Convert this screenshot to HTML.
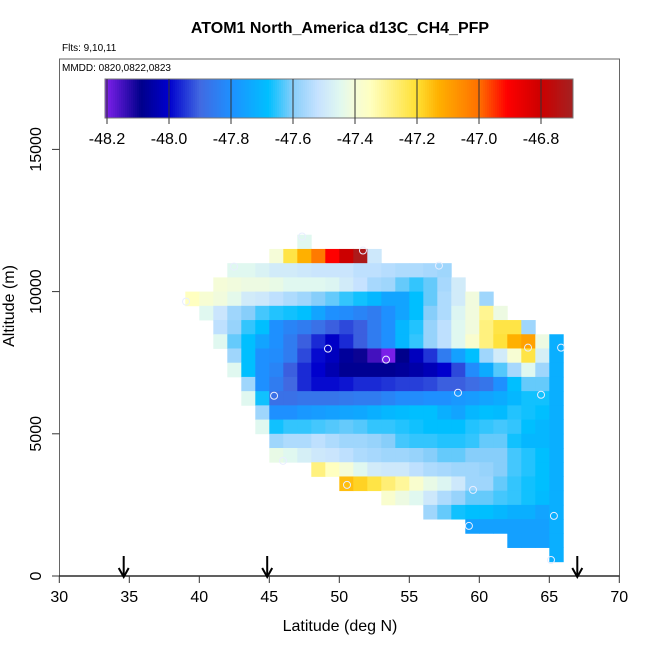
<!DOCTYPE html>
<html><head><meta charset="utf-8"><style>
html,body{margin:0;padding:0;background:#fff;}
svg text{font-family:"Liberation Sans",sans-serif;}
</style></head><body>
<svg id="chart" width="650" height="650" viewBox="0 0 650 650" xmlns="http://www.w3.org/2000/svg">
<rect width="650" height="650" fill="#fff"/>
<text x="340" y="33" text-anchor="middle" font-size="16" font-weight="bold">ATOM1 North_America d13C_CH4_PFP</text>
<text x="62" y="51" font-size="10">Flts: 9,10,11</text>
<text x="62" y="71" font-size="10">MMDD: 0820,0822,0823</text>
<g id="cells"></g>
<g id="pts"></g>
<g id="cbar"></g>
<rect x="59.5" y="59" width="560" height="517" fill="none" stroke="#666" stroke-width="1"/>
<g id="axes"></g>
<text x="340" y="631" text-anchor="middle" font-size="16">Latitude (deg N)</text>
<text transform="translate(14,306) rotate(-90)" text-anchor="middle" font-size="16">Altitude (m)</text>
</svg>
<script>
const xTicks=[30,35,40,45,50,55,60,65,70];
const yTicks=[0,5000,10000,15000];
const cbarTicks=[-48.2,-48.0,-47.8,-47.6,-47.4,-47.2,-47.0,-46.8];
const arrowLats=[34.6,44.85,67.0];
const rowAlt=[11500,11000,10500,10000,9500,9000,8500,8000,7500,7000,6500,6000,5500,5000,4500,4000,3500,3000,2500,2000,1500,1000,500];
const rowLat0=[47,45,42,41,39,40,41,41,42,42,43,43,44,44,45,45,48,50,53,56,59,62,65];
const rowVals=[
[-47.45],
[-47.4,-47.22,-47.13,-47.02,-46.91,-46.8,-46.72,-47.5],
[-47.45,-47.45,-47.47,-47.49,-47.49,-47.5,-47.51,-47.51,-47.51,-47.53,-47.53,-47.54,-47.55,-47.55,-47.56,-47.57],
[-47.4,-47.41,-47.42,-47.42,-47.43,-47.45,-47.45,-47.45,-47.46,-47.49,-47.52,-47.56,-47.57,-47.62,-47.65,-47.62,-47.56,-47.49],
[-47.35,-47.39,-47.41,-47.44,-47.49,-47.5,-47.53,-47.55,-47.57,-47.6,-47.62,-47.65,-47.67,-47.7,-47.75,-47.75,-47.68,-47.62,-47.55,-47.49,-47.41,-47.57],
[-47.45,-47.51,-47.57,-47.6,-47.64,-47.66,-47.67,-47.68,-47.75,-47.8,-47.81,-47.83,-47.85,-47.8,-47.75,-47.68,-47.6,-47.55,-47.46,-47.41,-47.3,-47.42],
[-47.53,-47.58,-47.65,-47.68,-47.8,-47.83,-47.85,-47.88,-47.91,-47.93,-47.91,-47.85,-47.8,-47.7,-47.66,-47.58,-47.53,-47.45,-47.41,-47.28,-47.22,-47.22,-47.57],
[-47.45,-47.62,-47.68,-47.75,-47.8,-47.85,-47.91,-47.96,-48.01,-47.96,-47.91,-47.85,-47.8,-47.7,-47.65,-47.58,-47.53,-47.45,-47.38,-47.28,-47.21,-47.13,-47.1,-47.42,-47.72],
[-47.57,-47.68,-47.8,-47.81,-47.85,-47.93,-47.99,-48.02,-48.07,-48.1,-48.15,-48.2,-48.09,-48.02,-47.95,-47.85,-47.76,-47.68,-47.57,-47.49,-47.39,-47.22,-47.48,-47.72],
[-47.45,-47.68,-47.8,-47.83,-47.91,-47.96,-48.0,-48.04,-48.08,-48.08,-48.08,-48.08,-48.07,-48.05,-48.03,-48.0,-47.93,-47.81,-47.73,-47.63,-47.56,-47.45,-47.57,-47.72],
[-47.57,-47.8,-47.85,-47.9,-47.96,-47.99,-47.99,-47.98,-47.96,-47.96,-47.95,-47.94,-47.94,-47.93,-47.91,-47.91,-47.89,-47.87,-47.8,-47.68,-47.62,-47.62,-47.72],
[-47.45,-47.67,-47.88,-47.88,-47.87,-47.87,-47.87,-47.86,-47.85,-47.85,-47.83,-47.81,-47.81,-47.8,-47.8,-47.78,-47.77,-47.75,-47.73,-47.7,-47.67,-47.67,-47.72],
[-47.57,-47.8,-47.8,-47.78,-47.77,-47.76,-47.75,-47.74,-47.72,-47.7,-47.69,-47.68,-47.68,-47.72,-47.75,-47.7,-47.68,-47.69,-47.66,-47.67,-47.68,-47.72],
[-47.45,-47.67,-47.65,-47.65,-47.64,-47.63,-47.62,-47.63,-47.65,-47.65,-47.66,-47.67,-47.68,-47.68,-47.68,-47.66,-47.65,-47.64,-47.65,-47.68,-47.7,-47.72],
[-47.57,-47.55,-47.55,-47.53,-47.55,-47.57,-47.57,-47.58,-47.6,-47.64,-47.65,-47.65,-47.66,-47.66,-47.65,-47.62,-47.62,-47.67,-47.7,-47.7,-47.72],
[-47.43,-47.45,-47.48,-47.5,-47.51,-47.53,-47.55,-47.56,-47.57,-47.57,-47.58,-47.6,-47.62,-47.62,-47.6,-47.6,-47.6,-47.64,-47.66,-47.68,-47.72],
[-47.28,-47.35,-47.4,-47.45,-47.49,-47.5,-47.5,-47.53,-47.55,-47.56,-47.57,-47.57,-47.58,-47.6,-47.64,-47.66,-47.68,-47.72],
[-47.15,-47.18,-47.22,-47.27,-47.31,-47.38,-47.43,-47.46,-47.5,-47.57,-47.57,-47.62,-47.65,-47.67,-47.68,-47.72],
[-47.38,-47.42,-47.45,-47.5,-47.55,-47.58,-47.62,-47.62,-47.64,-47.65,-47.67,-47.69,-47.72],
[-47.57,-47.62,-47.67,-47.68,-47.68,-47.7,-47.72,-47.72,-47.75,-47.72],
[-47.76,-47.76,-47.76,-47.76,-47.76,-47.76,-47.72],
[-47.76,-47.76,-47.76,-47.72],
[-47.72]
];
const ptLat=[47.34,51.69,42.48,57.12,39.05,49.19,53.34,63.48,65.84,45.34,58.48,64.41,45.98,50.55,59.55,59.26,65.33,65.12];
const ptAlt=[11937,11444,10880,10915,9648,7993,7606,8028,8028,6338,6444,6373,4049,3204,3028,1761,2113,563];

const stops=[[-48.2,'#7a1fe8'],[-48.09,'#00008b'],[-48.0,'#0000cd'],[-47.9,'#4169e1'],[-47.8,'#1e90ff'],[-47.68,'#00bfff'],[-47.6,'#87cefa'],[-47.52,'#c6e2ff'],[-47.45,'#e0f8f0'],[-47.4,'#f5fcd8'],[-47.35,'#ffffc0'],[-47.2,'#ffe033'],[-47.13,'#ffb000'],[-47.0,'#ff7000'],[-46.91,'#ff0000'],[-46.8,'#cc0000'],[-46.7,'#a52020']];
function hx(c){return [1,3,5].map(i=>parseInt(c.substr(i,2),16));}
function color(v){
  if(v<=stops[0][0])return stops[0][1];
  for(let i=1;i<stops.length;i++){
    if(v<=stops[i][0]){const a=hx(stops[i-1][1]),b=hx(stops[i][1]);const t=(v-stops[i-1][0])/(stops[i][0]-stops[i-1][0]);
      return 'rgb('+a.map((x,j)=>Math.round(x+(b[j]-x)*t)).join(',')+')';}
  }
  return stops[stops.length-1][1];
}
const X=lat=>59.3+(lat-30)*14;
const Y=alt=>576-alt*0.02844;
const CB=v=>107+(v+48.2)*310;
const NS='http://www.w3.org/2000/svg';
function mk(tag,attrs,parent){const e=document.createElementNS(NS,tag);for(const k in attrs)e.setAttribute(k,attrs[k]);parent.appendChild(e);return e;}
const cells=document.getElementById('cells');
rowVals.forEach((vals,r)=>{
  vals.forEach((v,c)=>{
    const lat=rowLat0[r]+c;
    const x0=X(lat),x1=X(lat+1),y0=Y(rowAlt[r]+500),y1=Y(rowAlt[r]);
    const e=mk('rect',{x:x0,y:y0,width:x1-x0+0.4,height:y1-y0+0.4,fill:color(v)},cells);
    
    
  });
});
const pts=document.getElementById('pts');
ptLat.forEach((la,i)=>{
  const e=mk('circle',{cx:X(la),cy:Y(ptAlt[i]),r:3.5,fill:'none',stroke:'#e8eeff','stroke-width':1},pts);
  
  
});
const cb=document.getElementById('cbar');
for(let x=105;x<573;x+=2){
  const v=-48.2+(x+1-107)/310;
  const e=mk('rect',{x:x,y:79,width:2.3,height:39,fill:color(v)},cb);
  
  
}
mk('rect',{x:105,y:79,width:468,height:39,fill:'none',stroke:'#777','stroke-width':1},cb);
cbarTicks.forEach(t=>{
  const x=CB(t);
  const l=mk('line',{x1:x,x2:x,y1:79,y2:124,stroke:'#333','stroke-width':1},cb);
  
  
  const tx=mk('text',{x:x,y:144,'text-anchor':'middle','font-size':16},cb);
  tx.textContent=t.toFixed(1);
  
  
});
const ax=document.getElementById('axes');
mk('line',{x1:59.3,x2:619.3,y1:576,y2:576,stroke:'#000','stroke-width':1.2},ax);
xTicks.forEach(t=>{
  const x=X(t);
  const l=mk('line',{x1:x,x2:x,y1:576,y2:583,stroke:'#333'},ax);
  
  
  const tx=mk('text',{x:x,y:602,'text-anchor':'middle','font-size':16},ax);
  tx.textContent=t;
  
  
});
yTicks.forEach(t=>{
  const y=Y(t);
  const l=mk('line',{x1:52,x2:59.5,y1:y,y2:y,stroke:'#333'},ax);
  
  
  const tx=mk('text',{transform:'translate(41,'+y+') rotate(-90)','text-anchor':'middle','font-size':16},ax);
  tx.textContent=t;
  
  
});
arrowLats.forEach(la=>{
  const x=X(la);
  const g=mk('g',{stroke:'#000','stroke-width':2,fill:'none'},ax);
  
  
  mk('line',{x1:x,x2:x,y1:556,y2:576},g);
  mk('polyline',{points:(x-5)+',568 '+x+',577 '+(x+5)+',568'},g);
});
</script>
</body></html>
